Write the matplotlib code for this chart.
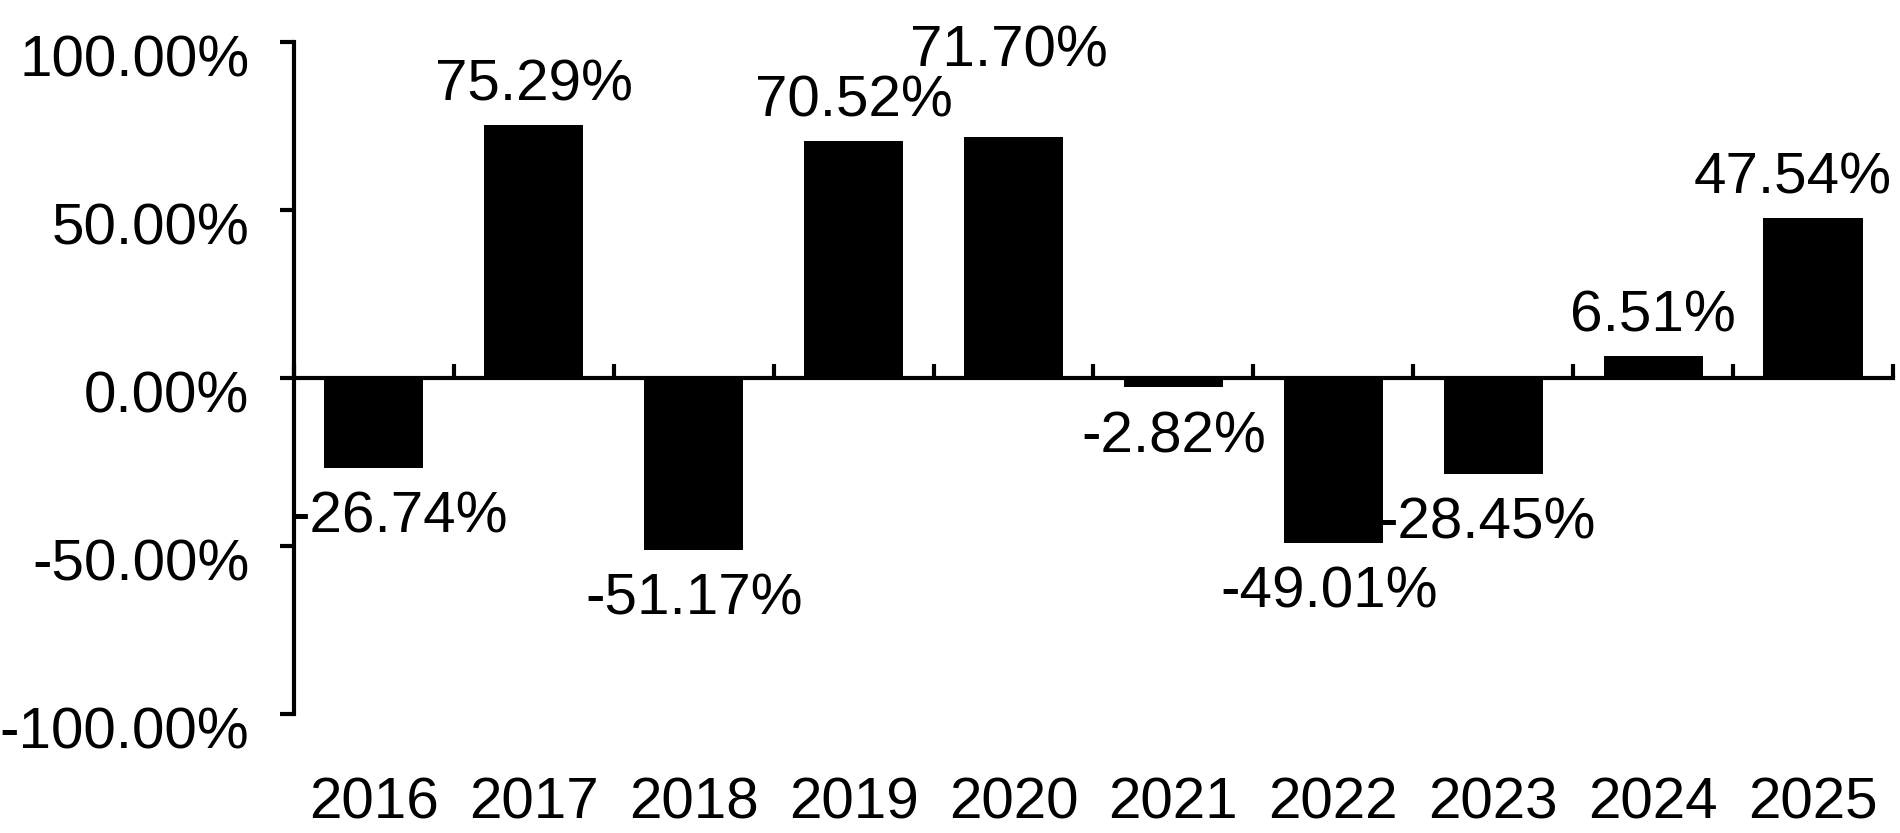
import matplotlib.pyplot as plt
import matplotlib.transforms as mtransforms
import numpy as np

years = ['2016', '2017', '2018', '2019', '2020', '2021', '2022', '2023', '2024', '2025']
returns = [-26.74, 75.29, -51.17, 70.52, 71.70, -2.82, -49.01, -28.45, 6.51, 47.54]
yticks = [-100, -50, 0, 50, 100]

# label nudges in pixels (dx, extra dy) where the original moved labels to avoid clashes
label_dx = [25, 0, 0, 0, -5, 0, -4, -6, 0, -20]
label_dy = [0, 0, 0, 0, 46, 0, 0, 0, 0, 0]

plt.rcParams['font.family'] = ['Liberation Sans', 'DejaVu Sans']
fs = 42

fig = plt.figure(figsize=(19, 8.33), dpi=100)
ax = fig.add_axes([0.1547, 0.1429, 0.9963 - 0.1547, 0.9496 - 0.1429])

x = np.arange(len(years))
vals = np.array(returns) / 100
ax.bar(x, vals, width=0.62, color='black', zorder=3)

ax.set_xlim(-0.5, len(years) - 0.5)
ax.set_ylim(-1, 1)

for s in ['top', 'right']:
    ax.spines[s].set_visible(False)
ax.spines['left'].set_linewidth(3)
ax.spines['bottom'].set_linewidth(3)
ax.spines['bottom'].set_position(('data', 0))

# y axis
ax.set_yticks([v / 100 for v in yticks])
ax.set_yticklabels(['%.2f%%' % v for v in yticks], fontsize=fs)
ax.tick_params(axis='y', direction='out', length=10, width=3, pad=22)
shift = mtransforms.ScaledTranslation(0, -14 / 100, fig.dpi_scale_trans)
for lab in ax.get_yticklabels():
    lab.set_transform(lab.get_transform() + shift)

# x axis: boundary ticks pointing up, labels at the bottom
ax.set_xticks(np.arange(len(years) + 1) - 0.5)
ax.set_xticklabels([])
ax.tick_params(axis='x', direction='in', length=10, width=3)
for i, yr in enumerate(years):
    ax.text(i, -0.1325, yr, transform=ax.get_xaxis_transform(),
            ha='center', va='center', fontsize=fs)

# data labels
for i, v in enumerate(vals):
    dy = 40 if v >= 0 else -50
    ax.annotate('%.2f%%' % returns[i], (i, v),
                xytext=(label_dx[i], dy + label_dy[i]), textcoords='offset pixels',
                ha='center', va='center', fontsize=fs)

fig.savefig('out.png', dpi=100)
